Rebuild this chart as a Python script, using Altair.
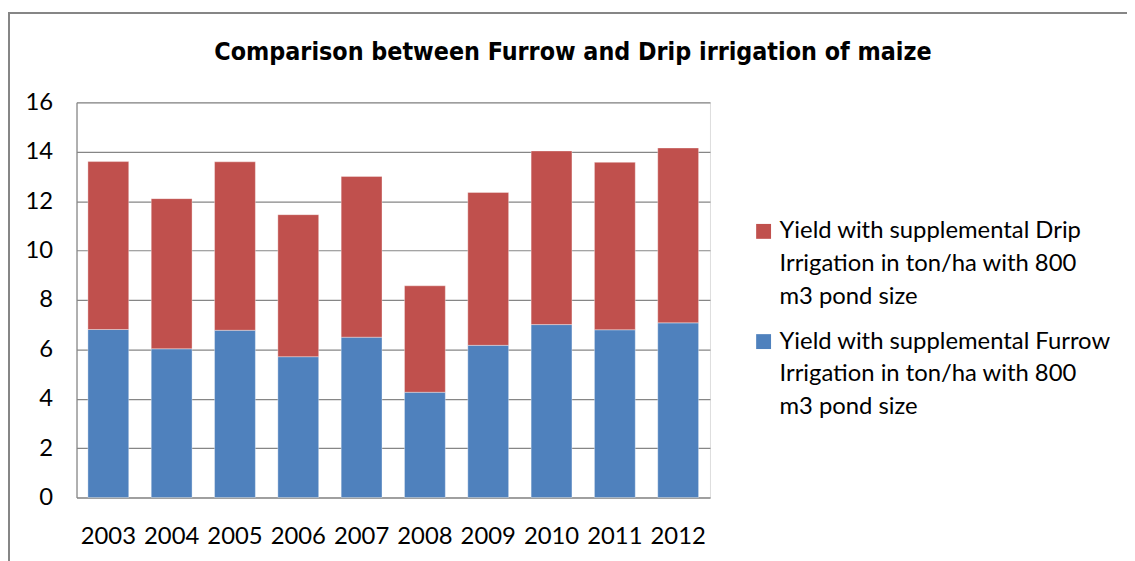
import altair as alt
import pandas as pd

years = ["2003", "2004", "2005", "2006", "2007", "2008", "2009", "2010", "2011", "2012"]
furrow = [6.80, 6.02, 6.77, 5.70, 6.49, 4.26, 6.16, 7.00, 6.79, 7.07]
totals = [13.60, 12.10, 13.59, 11.45, 13.00, 8.57, 12.35, 14.03, 13.57, 14.15]
drip = [round(t - f, 2) for t, f in zip(totals, furrow)]

series = [
    "Yield with supplemental Drip|Irrigation in ton/ha with 800|m3 pond size",
    "Yield with supplemental Furrow|Irrigation in ton/ha with 800|m3 pond size",
]
colors = ["#C0504D", "#4F81BD"]
title_text = ["Comparison between Furrow and Drip irrigation of maize"]

rows = []
for y, f, d in zip(years, furrow, drip):
    rows.append({"year": y, "series": series[1], "value": f, "ord": 0})
    rows.append({"year": y, "series": series[0], "value": d, "ord": 1})
df = pd.DataFrame(rows)

FONT = "Lato"
FS = 24

bars = alt.Chart(df).mark_bar(stroke="white", strokeWidth=0.6, strokeOpacity=0.6).encode(
    x=alt.X("year:N", title=None,
            scale=alt.Scale(paddingInner=0.355, paddingOuter=0.18),
            axis=alt.Axis(labelAngle=0, labelFont=FONT, labelFontSize=FS, labelColor="#000000",
                          labelPadding=27, ticks=False, domainColor="#868686", domainWidth=1.2)),
    y=alt.Y("value:Q", title=None, stack="zero",
            scale=alt.Scale(domain=[0, 16], nice=False),
            axis=alt.Axis(values=list(range(0, 17, 2)), labelFont=FONT, labelFontSize=FS,
                          labelColor="#000000", labelPadding=24, ticks=False,
                          domainColor="#868686", domainWidth=1.2,
                          gridColor="#868686", gridWidth=1.2)),
    color=alt.Color("series:N", scale=alt.Scale(domain=series, range=colors),
                    legend=alt.Legend(title=None, orient="none", legendX=680, legendY=118,
                                      labelExpr="split(datum.label, '|')",
                                      labelFont=FONT, labelFontSize=FS, labelColor="#000000",
                                      labelLimit=400, symbolType="square", symbolSize=225,
                                      symbolStrokeWidth=0, rowPadding=21, labelOffset=4)),
    order=alt.Order("ord:Q"),
)

title = alt.Chart(pd.DataFrame({"t": title_text})).mark_text(
    font="DejaVu Sans Condensed", fontSize=25, fontWeight="bold", color="#000000",
    align="center", baseline="middle").encode(
    text="t:N", x=alt.value(500), y=alt.value(-51))

frame_v = alt.Chart(df).mark_rule(color="#868686", strokeWidth=1.5).encode(
    x=alt.value(-68.5), y=alt.value(-90), y2=alt.value(470))
frame_h = alt.Chart(df).mark_rule(color="#868686", strokeWidth=1.5).encode(
    x=alt.value(-68.5), x2=alt.value(1070), y=alt.value(-90))

chart = alt.layer(bars, title, frame_v, frame_h).properties(
    width=638, height=398,
    padding={"left": 69, "top": 93, "right": 420, "bottom": 62},
    autosize=alt.AutoSizeParams(type="none"),
).configure_view(stroke=None).configure(
    background="white", style={"guide-label": {"lineHeight": 33}})

chart.save("out.html", embed_options={"renderer": "svg", "actions": False})
